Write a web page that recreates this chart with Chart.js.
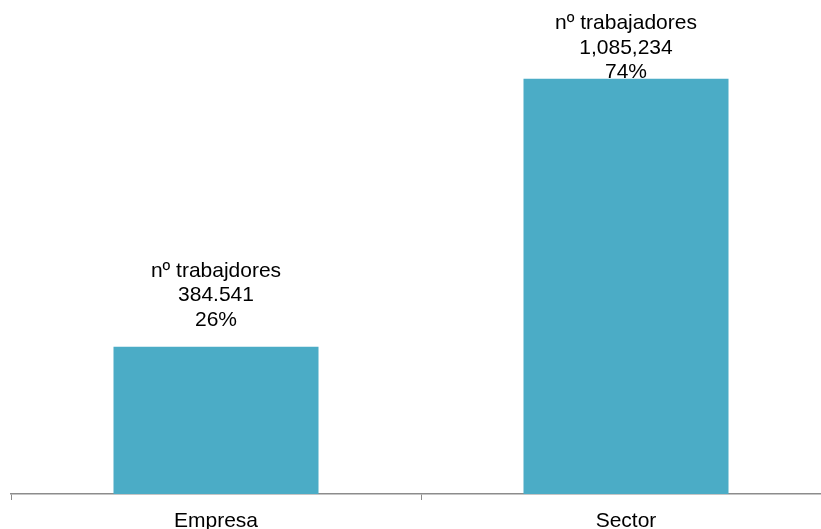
<!DOCTYPE html>
<html>
<head>
<meta charset="utf-8">
<script src="https://cdn.jsdelivr.net/npm/chart.js@4"></script>
<style>
  body { margin: 0; background: #fff; overflow: hidden; }
  /* el eje sigue un poco más allá del borde derecho, como en el original */
  #wrap { width: 831px; height: 529px; }
</style>
</head>
<body>
<div id="wrap"><canvas id="myChart"></canvas></div>
<script>
// datos del gráfico
const categories = ['Empresa', 'Sector'];
const workerCounts = [384541, 1085234];
const labelTitles = ['nº trabajdores', 'nº trabajadores'];
const countLabels = ['384.541', '1,085,234'];
const shareLabels = ['26%', '74%'];

const FONT = '"Liberation Sans", Arial, sans-serif';

// etiquetas de tres líneas encima de cada barra
const barLabels = {
  id: 'barLabels',
  afterDatasetsDraw(chart) {
    const ctx = chart.ctx;
    const meta = chart.getDatasetMeta(0);
    const lineH = 24.5;
    ctx.save();
    ctx.font = '21px ' + FONT;
    ctx.fillStyle = '#000';
    ctx.textAlign = 'center';
    ctx.textBaseline = 'middle';
    meta.data.forEach((bar, i) => {
      const lines = [labelTitles[i], countLabels[i], shareLabels[i]];
      let first = bar.y - 27 - lineH * 2;
      if (first < 23.6) first = 23.6;  // no salir del borde superior
      lines.forEach((t, k) => ctx.fillText(t, bar.x, first + k * lineH));
    });
    ctx.restore();
  }
};

const ctx = document.getElementById('myChart').getContext('2d');
const chart = new Chart(ctx, {
  type: 'bar',
  data: {
    labels: categories,
    datasets: [{
      data: workerCounts,
      backgroundColor: '#4BACC6',
      borderWidth: 0,
      barPercentage: 0.5,
      categoryPercentage: 1
    }]
  },
  plugins: [barLabels],
  options: {
    responsive: true,
    maintainAspectRatio: false,
    animation: false,
    layout: { padding: { left: 11, right: 0, top: 0, bottom: 0 } },
    plugins: {
      legend: { display: false },
      tooltip: { enabled: false }
    },
    scales: {
      x: {
        offset: true,
        afterFit(scale) { scale.height = 35; },
        grid: {
          offset: true,
          drawOnChartArea: false,
          drawTicks: true,
          tickLength: 6,
          color: '#8c8c8c'
        },
        border: { display: true, color: '#8c8c8c', width: 1.5 },
        ticks: {
          color: '#000',
          font: { family: FONT, size: 21 },
          padding: 9
        }
      },
      y: {
        display: false,
        min: 0,
        max: 1291000
      }
    }
  }
});
</script>
</body>
</html>
